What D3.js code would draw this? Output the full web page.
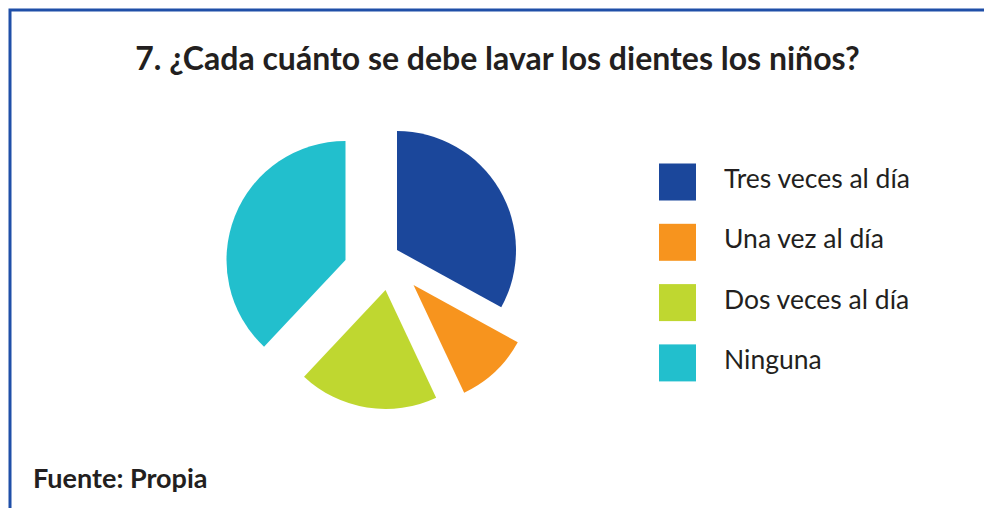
<!DOCTYPE html>
<html>
<head>
<meta charset="utf-8">
<script src="https://cdn.jsdelivr.net/npm/d3@7"></script>
<style>
  body { margin: 0; background: #fff; }
  svg { display: block; font-family: Lato, sans-serif; }
</style>
</head>
<body>
<script>
// data
var categories = ['Tres veces al día', 'Una vez al día', 'Dos veces al día', 'Ninguna'];
var values = [33, 10, 19, 38];
var colors = ['#1b479b', '#f7941e', '#bfd730', '#22bfcd'];
// how far each slice is pulled out of the pie (x, y)
var explodeX = [12, 28.5, 0.5, -39.5];
var explodeY = [-15, 20, 25, -5];

var width = 984;
var height = 508;
var radius = 119;
var cx = 385, cy = 265;

var svg = d3.select('body').append('svg')
    .attr('width', width)
    .attr('height', height);

// frame (only the top and left edges show)
svg.append('path')
    .attr('d', 'M10 508 L10 10 L984 10')
    .attr('fill', 'none')
    .attr('stroke', '#1f4fa8')
    .attr('stroke-width', 3);

// title
svg.append('text')
    .attr('x', 497.5)
    .attr('y', 70)
    .attr('text-anchor', 'middle')
    .attr('font-size', 32)
    .attr('font-weight', 'bold')
    .attr('fill', '#231f20')
    .text('7. ¿Cada cuánto se debe lavar los dientes los niños?');

var pie = d3.pie().sort(null).value(function(d) { return d; });
var arc = d3.arc().innerRadius(0).outerRadius(radius);

var arcs = pie(values);

let g = svg.append('g')
    .attr('transform', 'translate(' + cx + ',' + cy + ')');

g.selectAll('path.slice')
    .data(arcs)
    .enter().append('path')
    .attr('class', 'slice')
    .attr('d', arc)
    .attr('fill', function(d, i) { return colors[i]; })
    .attr('transform', function(d, i) {
        return 'translate(' + explodeX[i] + ',' + explodeY[i] + ')';
    });

// legend
var legend = svg.append('g')
    .attr('transform', 'translate(659,163.5)');

var item = legend.selectAll('g')
    .data(categories)
    .enter().append('g')
    .attr('transform', function(d, i) { return 'translate(0,' + (i * 60.3) + ')'; });

item.append('rect')
    .attr('width', 37)
    .attr('height', 37)
    .attr('fill', function(d, i) { return colors[i]; });

item.append('text')
    .attr('x', 65)
    .attr('y', 24.5)
    .attr('font-size', 26.5)
    .attr('fill', '#231f20')
    .text(function(d) { return d; });

// source
svg.append('text')
    .attr('x', 33)
    .attr('y', 487.5)
    .attr('font-size', 27)
    .attr('font-weight', 'bold')
    .attr('fill', '#231f20')
    .text('Fuente: Propia');
</script>
</body>
</html>
